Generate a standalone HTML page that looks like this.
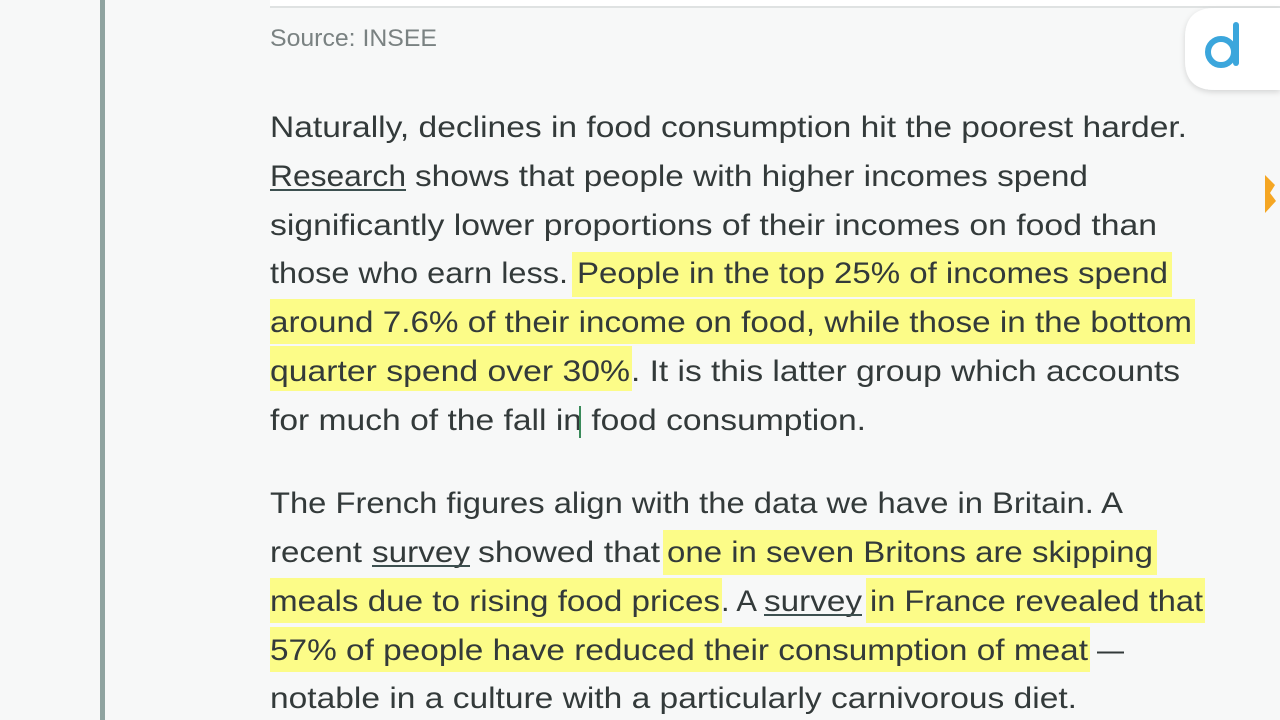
<!DOCTYPE html>
<html><head><meta charset="utf-8"><style>
html,body{margin:0;padding:0;width:1280px;height:720px;overflow:hidden;background:#f7f8f8;}
svg{position:absolute;left:0;top:0}
text{font-family:"Liberation Sans",sans-serif;fill:#333a3a;font-size:30px;}
</style></head><body>
<svg width="1280" height="720">
<rect x="270" y="0" width="1010" height="7" fill="#ffffff"/>
<rect x="270" y="6" width="1010" height="2" fill="#dfe2e2"/>
<rect x="100" y="0" width="5" height="720" fill="#8fa3a0"/>
<text x="270" y="46" style="font-size:24px;fill:#7a8282" textLength="167" lengthAdjust="spacingAndGlyphs">Source: INSEE</text>

<g fill="#fcfc88">
<rect x="572" y="252" width="600" height="45"/>
<rect x="270" y="299" width="925" height="45"/>
<rect x="270" y="346" width="362" height="45"/>
<rect x="663" y="530" width="494" height="45"/>
<rect x="270" y="578" width="452" height="45"/>
<rect x="866" y="578" width="339" height="45"/>
<rect x="270" y="627" width="820" height="45"/>
</g>

<g>
<text x="270" y="137" textLength="917" lengthAdjust="spacingAndGlyphs">Naturally, declines in food consumption hit the poorest harder.</text>
<text x="270" y="186" textLength="136" lengthAdjust="spacingAndGlyphs">Research</text>
<rect x="270" y="189" width="136" height="2" fill="#3d5050"/>
<text x="415" y="186" textLength="673" lengthAdjust="spacingAndGlyphs">shows that people with higher incomes spend</text>
<text x="270" y="235" textLength="887" lengthAdjust="spacingAndGlyphs">significantly lower proportions of their incomes on food than</text>
<text x="270" y="283" textLength="298" lengthAdjust="spacingAndGlyphs">those who earn less.</text>
<text x="577" y="283" textLength="591" lengthAdjust="spacingAndGlyphs">People in the top 25% of incomes spend</text>
<text x="270" y="332" textLength="922" lengthAdjust="spacingAndGlyphs">around 7.6% of their income on food, while those in the bottom</text>
<text x="270" y="381" textLength="360" lengthAdjust="spacingAndGlyphs">quarter spend over 30%</text>
<text x="631" y="381" textLength="549" lengthAdjust="spacingAndGlyphs">. It is this latter group which accounts</text>
<text x="270" y="430" textLength="596" lengthAdjust="spacingAndGlyphs">for much of the fall in food consumption.</text>
</g>

<g>
<text x="270" y="513" textLength="853" lengthAdjust="spacingAndGlyphs">The French figures align with the data we have in Britain. A</text>
<text x="270" y="562" textLength="92" lengthAdjust="spacingAndGlyphs">recent</text>
<text x="372" y="562" textLength="98" lengthAdjust="spacingAndGlyphs">survey</text>
<rect x="372" y="565" width="98" height="2" fill="#3d5050"/>
<text x="478" y="562" textLength="182" lengthAdjust="spacingAndGlyphs">showed that</text>
<text x="667" y="562" textLength="486" lengthAdjust="spacingAndGlyphs">one in seven Britons are skipping</text>
<text x="270" y="611" textLength="450" lengthAdjust="spacingAndGlyphs">meals due to rising food prices</text>
<text x="721" y="611" textLength="36" lengthAdjust="spacingAndGlyphs">. A</text>
<text x="764" y="611" textLength="98" lengthAdjust="spacingAndGlyphs">survey</text>
<rect x="764" y="614" width="98" height="2" fill="#3d5050"/>
<text x="870" y="611" textLength="333" lengthAdjust="spacingAndGlyphs">in France revealed that</text>
<text x="270" y="660" textLength="818" lengthAdjust="spacingAndGlyphs">57% of people have reduced their consumption of meat</text>
<text x="1097" y="660" textLength="27" lengthAdjust="spacingAndGlyphs">—</text>
<text x="270" y="708" textLength="807" lengthAdjust="spacingAndGlyphs">notable in a culture with a particularly carnivorous diet.</text>
</g>

<rect x="579" y="406" width="2" height="32" fill="#3a8a5a"/>

<defs><filter id="sh" x="-30%" y="-30%" width="160%" height="160%"><feDropShadow dx="0" dy="2" stdDeviation="3" flood-color="#000" flood-opacity="0.15"/></filter></defs>
<g>
<path d="M1280 8 L1215 8 Q1185 8 1185 38 L1185 60 Q1185 90 1215 90 L1280 90 Z" fill="#ffffff" filter="url(#sh)"/>
<circle cx="1221" cy="52" r="13" fill="none" stroke="#3ba6dc" stroke-width="6"/>
<rect x="1233" y="22" width="6" height="44" rx="3" fill="#3ba6dc"/>
</g>
<path d="M1265 175 L1275 185 L1270 193 L1276 201 L1265 213 Z" fill="#f5a623"/>
</svg>
</body></html>
